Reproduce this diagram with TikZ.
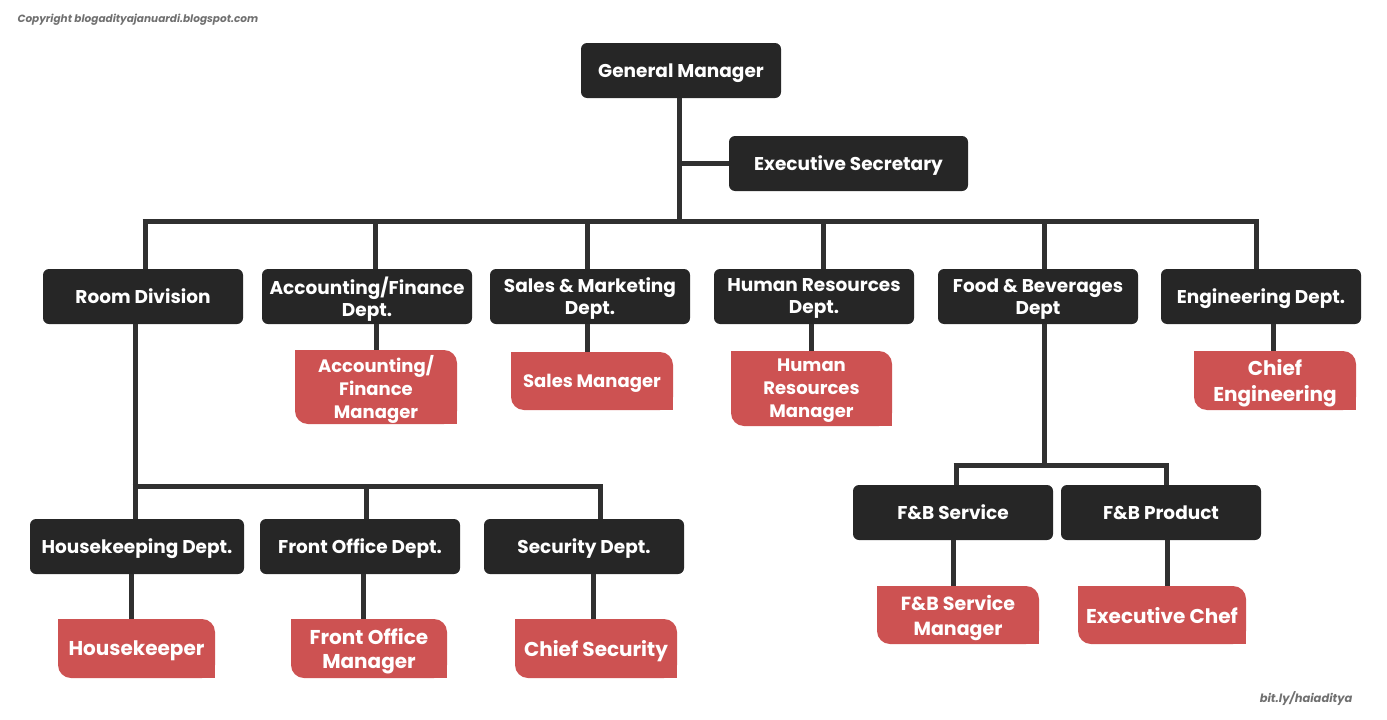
\documentclass[tikz,border=0pt]{standalone}
\usepackage{fontspec}
\setmainfont{Poppins}
\definecolor{boxc}{HTML}{262626}
\definecolor{linec}{HTML}{303030}
\definecolor{redc}{HTML}{CD5252}
\definecolor{grayc}{HTML}{707070}
\begin{document}
\begin{tikzpicture}[x=1pt,y=-1pt,
  darkbox/.style={fill=boxc, rounded corners=6pt, text=white, font=\fontsize{18.5}{22}\selectfont\bfseries, align=center, inner sep=0pt, minimum height=55pt, text depth=0pt},
  redbox/.style={text=white, font=\fontsize{18}{23}\selectfont\bfseries, align=center, inner sep=0pt, text depth=0pt,
    path picture={
      \fill[redc,rounded corners=13pt] (path picture bounding box.south west) rectangle (path picture bounding box.north east);
      \fill[redc] (path picture bounding box.north west) rectangle (path picture bounding box.center);
      \fill[redc] (path picture bounding box.center) rectangle (path picture bounding box.south east);}},
  conn/.style={draw=linec, line width=5pt},
  shiftx/.style={transform canvas={xshift=#1}},
  note/.style={text=grayc, font=\fontsize{10.5}{12}\selectfont\bfseries\itshape}]
\useasboundingbox (0,0) rectangle (1387,720);

% notes
\node[note, anchor=west] (cp) at (14,20) {Copyright blogadityajanuardi.blogspot.com};
\node[note, anchor=east, font=\fontsize{11.5}{13}\selectfont\bfseries\itshape] (bl) at (1356,698.5) {bit.ly/haiaditya};

% junctions
\coordinate (jgm) at (679,221.5);
\coordinate (j1) at (145,221.5);
\coordinate (j2) at (375,221.5);
\coordinate (j3) at (587,221.5);
\coordinate (j4) at (823,221.5);
\coordinate (j5) at (1044,221.5);
\coordinate (j6) at (1256,221.5);
\coordinate (r1) at (135,486);
\coordinate (r2) at (366,486);
\coordinate (r3) at (600,486);
\coordinate (f0) at (1044,465);
\coordinate (f1) at (956,465);
\coordinate (f2) at (1166,465);

% top
\node[darkbox, minimum width=200pt] (gm) at (681,70.5) {General Manager};
\node[darkbox, minimum width=239pt] (es) at (848.5,163.5) {Executive Secretary};

% departments
\node[darkbox, minimum width=200pt] (rd) at (143,296.5) {Room Division};
\node[darkbox, minimum width=210pt] (afd) at (367,296.5) {Accounting/Finance\\Dept.};
\node[darkbox, minimum width=200pt] (smd) at (590,296.5) {Sales \& Marketing\\Dept.};
\node[darkbox, minimum width=200pt] (hrd) at (814,296.5) {Human Resources\\Dept.};
\node[darkbox, minimum width=200pt] (fbd) at (1038,296.5) {Food \& Beverages\\Dept};
\node[darkbox, minimum width=200pt] (eng) at (1261,296.5) {Engineering Dept.};

% managers row 1
\node[redbox, minimum width=162pt, minimum height=74pt] (afm) at (376,387) {Accounting/\\Finance\\Manager};
\node[redbox, minimum width=162pt, minimum height=58pt] (sm) at (592,381) {Sales Manager};
\node[redbox, minimum width=161pt, minimum height=75pt] (hrm) at (811.5,388.5) {Human\\Resources\\Manager};
\node[redbox, minimum width=162pt, minimum height=59pt, font=\fontsize{20}{26}\selectfont\bfseries] (ce) at (1275,380.5) {Chief\\Engineering};

% room division sub
\node[darkbox, minimum width=214pt] (hk) at (137,546.5) {Housekeeping Dept.};
\node[darkbox, minimum width=200pt] (fo) at (360,546.5) {Front Office Dept.};
\node[darkbox, minimum width=200pt] (sec) at (584,546.5) {Security Dept.};
\node[redbox, minimum width=157pt, minimum height=59pt, font=\fontsize{20}{24}\selectfont\bfseries] (hkr) at (136.5,648.5) {Housekeeper};
\node[redbox, minimum width=156pt, minimum height=59pt, font=\fontsize{20}{24}\selectfont\bfseries] (fom) at (369,648.5) {Front Office\\Manager};
\node[redbox, minimum width=162pt, minimum height=59pt, font=\fontsize{20}{24}\selectfont\bfseries] (cs) at (596,648.5) {Chief Security};

% F&B sub
\node[darkbox, minimum width=200pt] (fbs) at (953,512.5) {F\&B Service};
\node[darkbox, minimum width=200pt] (fbp) at (1161,512.5) {F\&B Product};
\node[redbox, minimum width=162pt, minimum height=58pt, font=\fontsize{19}{25}\selectfont\bfseries] (fbsm) at (958,615) {F\&B Service\\Manager};
\node[redbox, minimum width=168pt, minimum height=58pt, font=\fontsize{20}{24}\selectfont\bfseries] (ec) at (1162,615) {Executive Chef};

% connectors
\draw[conn] (gm.south -| jgm) -- (jgm);
\draw[conn] (es.west) -- (es.west -| jgm);
\draw[conn] ([xshift=-2.5pt]j1) -- ([xshift=2.5pt]j6);
\draw[conn] (j1) -- (rd.north -| j1);
\draw[conn] (j2) -- (afd.north -| j2);
\draw[conn] (j3) -- (smd.north -| j3);
\draw[conn] (j4) -- (hrd.north -| j4);
\draw[conn] (j5) -- (fbd.north -| j5);
\draw[conn] (j6) -- (eng.north -| j6);
\draw[conn] (afd.south -| afm.north) -- (afm.north);
\draw[conn, shiftx=-5pt] (smd.south -| sm.north) -- (sm.north);
\draw[conn] (hrd.south -| hrm.north) -- (hrm.north);
\draw[conn, shiftx=-2pt] (eng.south -| ce.north) -- (ce.north);

\draw[conn] (rd.south -| r1) -- (r1);
\draw[conn] ([xshift=-2.5pt]r1) -- ([xshift=2.5pt]r3);
\draw[conn] (r1) -- (hk.north -| r1);
\draw[conn] (r2) -- (fo.north -| r2);
\draw[conn] (r3) -- (sec.north -| r3);
\draw[conn, shiftx=-5pt] (hk.south -| hkr.north) -- (hkr.north);
\draw[conn, shiftx=-6pt] (fo.south -| fom.north) -- (fom.north);
\draw[conn, shiftx=-3pt] (sec.south -| cs.north) -- (cs.north);

\draw[conn] (fbd.south -| f0) -- (f0);
\draw[conn] ([xshift=-2.5pt]f1) -- ([xshift=2.5pt]f2);
\draw[conn] (f1) -- (fbs.north -| f1);
\draw[conn] (f2) -- (fbp.north -| f2);
\draw[conn, shiftx=-5pt] (fbs.south -| fbsm.north) -- (fbsm.north);
\draw[conn, shiftx=5pt] (fbp.south -| ec.north) -- (ec.north);
\end{tikzpicture}
\end{document}
